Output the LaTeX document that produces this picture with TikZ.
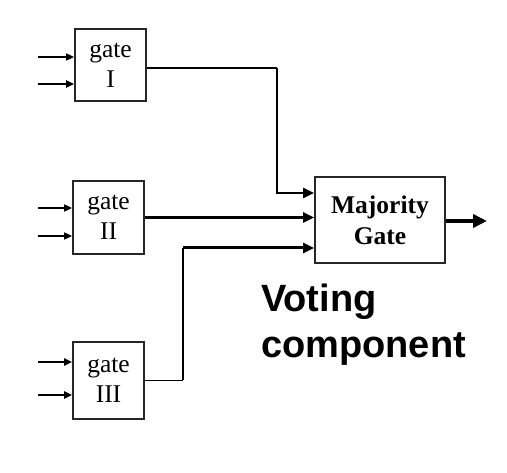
\documentclass[tikz,border=0pt]{standalone}
\usepackage{fontspec}
\setmainfont{Liberation Serif}
\newfontfamily\votefont{Liberation Sans}
\usetikzlibrary{arrows.meta}
\begin{document}
\begin{tikzpicture}[x=1pt,y=1pt,
  gatebox/.style={draw=black!85,line width=1.7pt,minimum width=71pt,inner sep=0pt,align=center,
    font=\fontsize{25.5}{30}\selectfont},
  majbox/.style={draw=black!85,line width=1.8pt,minimum width=130pt,minimum height=86pt,inner sep=0pt,align=center,
    font=\fontsize{25.5}{31}\selectfont\bfseries},
  inarrow/.style={line width=1.6pt,-{Triangle[length=8pt,width=7pt]}},
  majarrow/.style={-{Triangle[length=11pt,width=10pt]}},
  thinline/.style={line width=1.6pt},
  thickline/.style={line width=3pt},
]
\useasboundingbox (0,0) rectangle (507,-473);
\node[gatebox,minimum height=72pt] (g1) at (110.5,-65) {gate\\I};
\node[gatebox,minimum height=73pt] (g2) at (108.5,-217.5) {gate\\II};
\node[gatebox,minimum height=77pt] (g3) at (108.5,-380.5) {gate\\III};
\node[majbox] (maj) at (380,-220) {Majority\\Gate};
% inputs
\coordinate (i1a) at (38,-57);
\coordinate (i1b) at (38,-84);
\coordinate (i2a) at (38,-208);
\coordinate (i2b) at (38,-236);
\coordinate (i3a) at (38,-362);
\coordinate (i3b) at (38,-395);
\draw[inarrow] (i1a) -- (i1a -| g1.west);
\draw[inarrow,line width=2.6pt] (i1b) -- (i1b -| g1.west);
\draw[inarrow] (i2a) -- (i2a -| g2.west);
\draw[inarrow] (i2b) -- (i2b -| g2.west);
\draw[inarrow,line width=2.2pt] (i3a) -- (i3a -| g3.west);
\draw[inarrow,line width=2.2pt] (i3b) -- (i3b -| g3.west);
% gate I to majority
\coordinate (o1) at ([yshift=-3pt]g1.east);
\coordinate (c1) at (277,-68);
\coordinate (m1) at (277,-193);
\draw[thinline] (o1) -- (c1);
\draw[line width=2.4pt,majarrow] (c1) -- (m1) -- (m1 -| maj.west);
% gate II to majority
\draw[thickline,majarrow] (g2.east) -- (g2.east -| maj.west);
% gate III to majority
\coordinate (o3) at (g3.east);
\coordinate (c3) at (183,-380.5);
\coordinate (m3) at (183,-248);
\draw[thinline] (o3) -- (c3);
\draw[line width=2.2pt] (c3) -- (m3);
\draw[thickline,majarrow] (m3) -- (m3 -| maj.west);
% output
\coordinate (out) at (487,-221);
\draw[line width=4pt,-{Triangle[length=14pt,width=13pt]}] (maj.east |- out) -- (out);
% label
\node[anchor=north west,inner sep=0pt,align=left,font=\votefont\fontsize{38}{46}\selectfont\bfseries] (vote) at (261,-284) {Voting\\component};
\end{tikzpicture}
\end{document}
